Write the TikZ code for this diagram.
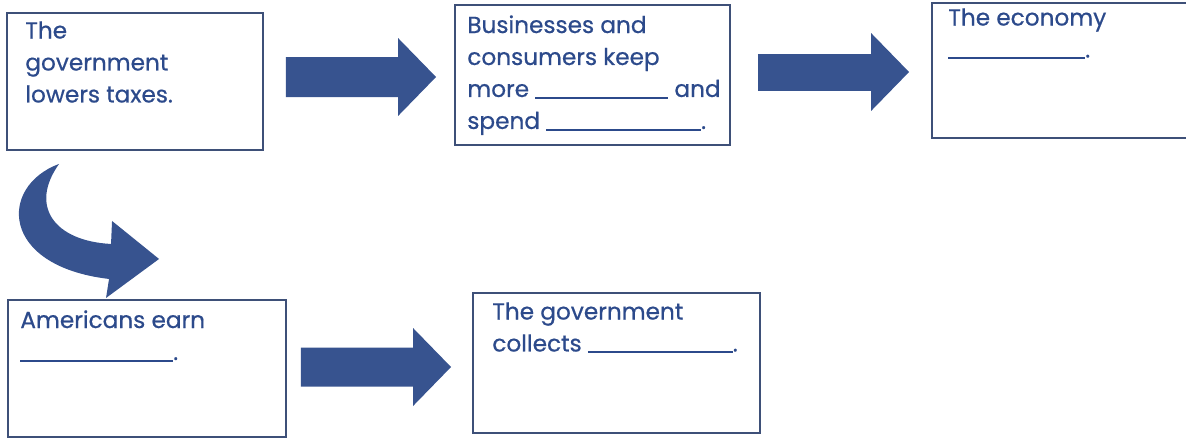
\documentclass[tikz,border=0pt]{standalone}
\usepackage{fontspec}
\setmainfont{Poppins}[FakeBold=0.6]
\usetikzlibrary{arrows.meta,fit,calc}
\definecolor{inkblue}{HTML}{2C4A8B}
\definecolor{arrowblue}{HTML}{37538F}
\definecolor{boxline}{HTML}{3E5078}
\newcommand{\blank}[1]{\rule[-1pt]{#1}{1pt}}
\tikzset{
    box/.style={draw=boxline, line width=1.1pt, inner sep=0pt},
    txt/.style={anchor=north west, inner sep=0pt, align=left, text=inkblue,
        font=\fontsize{13.2}{18.2}\selectfont},
    bigarrow/.style={draw=arrowblue, line width=#1,
        -{Triangle[length=0.76cm,width=1.56cm,line width=0pt]}},
    bigarrow/.default=0.78cm
}
\begin{document}
\begin{tikzpicture}[x=0.02cm,y=-0.02cm]
    \useasboundingbox (0,0) rectangle (1186,440);

    % boxes
    \node[box, fit={(7,13) (263,150)}] (b1) {};
    \node[box, fit={(455,5) (730,145)}] (b2) {};
    \node[box, fit={(932,3) (1192,138)}] (b3) {};
    \node[box, fit={(8,300) (286,437)}] (b4) {};
    \node[box, fit={(473,293) (760,433)}] (b5) {};

    % texts
    \node[txt] (t1) at (25,21) {The\\government\\lowers taxes.};
    \node[txt] (t2) at (467,15) {Businesses and\\consumers keep\\more \blank{2.66cm} and\\spend \blank{3.1cm}.};
    \node[txt] (t3) at (948,8) {The economy\\\blank{2.74cm}.};
    \node[txt] (t4) at (20,310) {Americans earn\\\blank{3.06cm}.};
    \node[txt] (t5) at (492,302) {The government\\collects \blank{2.9cm}.};

    % arrows
    \draw[bigarrow=0.8cm] ($(b1.east)+(22,-4.5)$) -- ($(b2.west)+(-18,2)$);
    \draw[bigarrow=0.74cm] ($(b2.east)+(27,-3)$) -- ($(b3.west)+(-22,1.5)$);
    \draw[bigarrow=0.78cm] ($(b4.east)+(14,-1.5)$) -- ($(b5.west)+(-21,4)$);

    % curved arrow, box 1 down to box 4
    \begin{scope}[shift={(b1.south west)}]
        \fill[arrowblue] (53,13) .. controls (-7,35) and (-7,115) .. (103,128)
            -- (100,147) -- (153,108) -- (106,70) -- (105,93)
            .. controls (48,90) and (23,55) .. (53,13) -- cycle;
    \end{scope}
\end{tikzpicture}
\end{document}
